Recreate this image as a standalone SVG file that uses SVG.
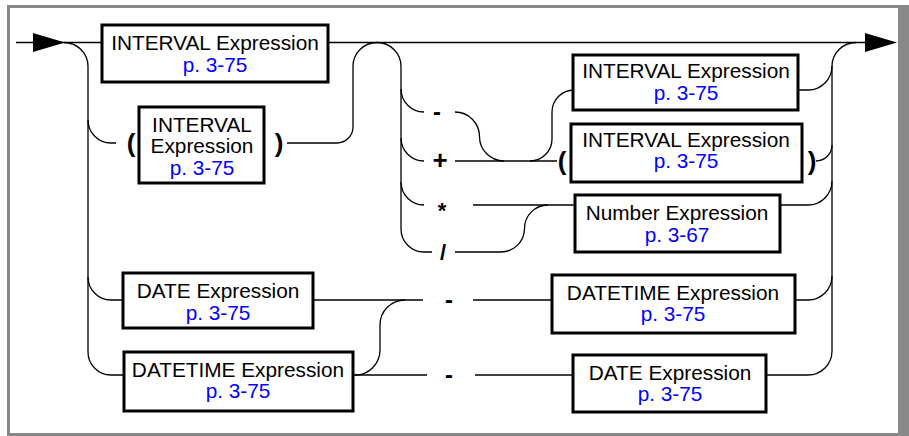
<svg xmlns="http://www.w3.org/2000/svg" width="909" height="436" viewBox="0 0 909 436">
<style>
.frame{fill:#888888}
.box{fill:#ffffff;stroke:#000000;stroke-width:3}
.t{font-family:"Liberation Sans",Arial,Helvetica,sans-serif;font-size:20.8px;fill:#000000;text-anchor:middle}
.ref{fill:#0000ff}
.op{font-family:"Liberation Sans",Arial,Helvetica,sans-serif;font-weight:bold;fill:#000000;text-anchor:middle}
.c{fill:none;stroke:#000000;stroke-width:1.3}
</style>
<rect x="0" y="0" width="909" height="436" fill="#ffffff"/>
<g id="frame">
<rect class="frame" x="7" y="5" width="902" height="3"/>
<rect class="frame" x="7" y="5" width="3" height="430"/>
<rect class="frame" x="898" y="5" width="11" height="431"/>
<rect class="frame" x="7" y="433" width="902" height="3"/>
</g>
<g id="connectors">
<path class="c" d="M16,42.5 H102"/>
<path class="c" d="M328,42.5 H866"/>
<path class="c" d="M64,42.5 A24,24 0 0 1 88,66.5 V352 A23,23 0 0 0 111,375 H124"/>
<path class="c" d="M88,120 A23,23 0 0 0 111,143 H116"/>
<path class="c" d="M88,277 A23,23 0 0 0 111,300 H123"/>
<path class="c" d="M287,143 H337 A16,16 0 0 0 353,127 V66.5 A24,24 0 0 1 377,42.5 A24,24 0 0 1 401,66.5 V229 A23,23 0 0 0 424,252 H432"/>
<path class="c" d="M401,89 A23,23 0 0 0 424,112"/>
<path class="c" d="M401,138 A23,23 0 0 0 424,161"/>
<path class="c" d="M401,182 A23,23 0 0 0 424,205"/>
<path class="c" d="M455,112 A24.5,24.5 0 0 1 479.5,136.5 A24.5,24.5 0 0 0 504,161"/>
<path class="c" d="M455,161 H557"/>
<path class="c" d="M530,161 A22,22 0 0 0 552,139 V112 A22,22 0 0 1 574,90"/>
<path class="c" d="M473,205 H575"/>
<path class="c" d="M455,252 H501 A23.5,23.5 0 0 0 524.5,228.5 A23.5,23.5 0 0 1 548,205"/>
<path class="c" d="M313,300 H423"/>
<path class="c" d="M473,300 H552"/>
<path class="c" d="M353,375 H427"/>
<path class="c" d="M475,375 H573"/>
<path class="c" d="M355,375 A25,25 0 0 0 380,350 V325 A25,25 0 0 1 405,300"/>
<path class="c" d="M766,375 H808 A24,24 0 0 0 832,351 V66.5 A24,24 0 0 1 856,42.5"/>
<path class="c" d="M798,90 H808 A24,24 0 0 0 832,66"/>
<path class="c" d="M816,161 A16,16 0 0 0 832,145"/>
<path class="c" d="M780,205 H808 A24,24 0 0 0 832,181"/>
<path class="c" d="M795,300 H808 A24,24 0 0 0 832,276"/>
<polygon points="33,33 65,42.5 33,52" fill="#000000"/>
<polygon points="865,33 897,42.5 865,52" fill="#000000"/>
</g>
<g id="operators">
<text class="op" x="131" y="152" font-size="26">(</text>
<text class="op" x="279" y="152" font-size="26">)</text>
<text class="op" x="437" y="120" font-size="24">-</text>
<text class="op" x="440" y="169" font-size="26">+</text>
<text class="op" x="442" y="218" font-size="22">*</text>
<text class="op" x="443" y="260" font-size="22">/</text>
<text class="op" x="562" y="170" font-size="26">(</text>
<text class="op" x="812" y="170" font-size="26">)</text>
<text class="op" x="449" y="308" font-size="24">-</text>
<text class="op" x="449" y="383" font-size="24">-</text>
</g>
<g id="interval1">
<rect class="box" x="102" y="25" width="226" height="57"/>
<text class="t" x="215" y="50">INTERVAL Expression</text>
<text class="t ref" x="215" y="72">p. 3-75</text>
</g>
<g id="interval2">
<rect class="box" x="139" y="107" width="125" height="76"/>
<text class="t" x="202" y="132">INTERVAL</text>
<text class="t" x="202" y="153">Expression</text>
<text class="t ref" x="202" y="175">p. 3-75</text>
</g>
<g id="interval3">
<rect class="box" x="573" y="55" width="225" height="55"/>
<text class="t" x="686" y="78">INTERVAL Expression</text>
<text class="t ref" x="686" y="100">p. 3-75</text>
</g>
<g id="interval4">
<rect class="box" x="571" y="124" width="231" height="58"/>
<text class="t" x="686" y="147">INTERVAL Expression</text>
<text class="t ref" x="686" y="168">p. 3-75</text>
</g>
<g id="number">
<rect class="box" x="575" y="195" width="205" height="57"/>
<text class="t" x="677" y="220">Number Expression</text>
<text class="t ref" x="677" y="242">p. 3-67</text>
</g>
<g id="date1">
<rect class="box" x="123" y="273" width="190" height="55"/>
<text class="t" x="218" y="298">DATE Expression</text>
<text class="t ref" x="218" y="320">p. 3-75</text>
</g>
<g id="datetime2">
<rect class="box" x="552" y="275" width="243" height="58"/>
<text class="t" x="673" y="300">DATETIME Expression</text>
<text class="t ref" x="673" y="321">p. 3-75</text>
</g>
<g id="datetime1">
<rect class="box" x="124" y="352" width="229" height="59"/>
<text class="t" x="238" y="377">DATETIME Expression</text>
<text class="t ref" x="238" y="398">p. 3-75</text>
</g>
<g id="date2">
<rect class="box" x="573" y="355" width="193" height="57"/>
<text class="t" x="670" y="379.5">DATE Expression</text>
<text class="t ref" x="670" y="401">p. 3-75</text>
</g>
</svg>
